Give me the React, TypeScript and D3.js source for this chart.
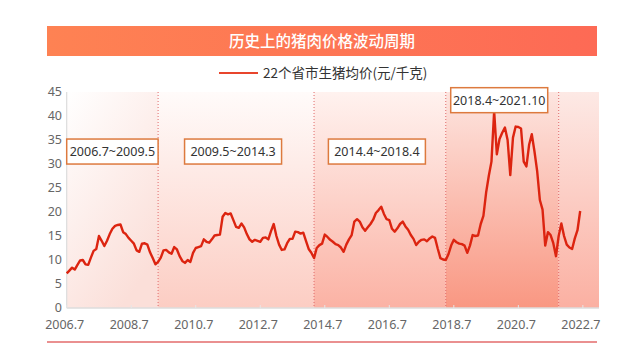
import * as d3 from 'd3'

// 22个省市生猪均价, monthly from 2006.7
const START_YEAR = 2006
const START_MONTH = 7
const prices = [
  7.2, 7.8, 8.4, 8.0, 9.0, 9.9, 10.0, 9.1, 9.0, 10.5, 11.9, 12.3,
  15.0, 14.0, 12.9, 14.0, 15.4, 16.5, 17.1, 17.3, 17.4, 15.8, 15.4, 14.6,
  14.0, 13.4, 12.0, 11.7, 13.4, 13.5, 13.2, 11.6, 10.4, 9.1, 9.6, 10.5,
  12.0, 12.1, 11.6, 11.3, 12.7, 12.2, 10.8, 9.8, 9.4, 10.0, 9.6, 11.5,
  12.5, 12.7, 12.9, 14.3, 13.8, 13.6, 14.3, 15.1, 15.2, 15.3, 19.0, 19.8,
  19.5, 19.7, 18.3, 16.9, 16.7, 17.6, 16.8, 15.4, 14.3, 13.8, 14.2, 14.0,
  13.8, 14.6, 14.7, 14.3, 16.0, 17.5, 15.0, 13.2, 12.1, 12.2, 13.5, 14.4,
  14.4, 15.9, 15.8, 15.5, 15.7, 14.0, 12.3, 11.5, 10.4, 12.5, 13.1, 13.4,
  15.3, 14.8, 14.2, 13.8, 13.3, 13.1, 12.6, 11.7, 13.2, 14.3, 15.2, 18.0,
  18.5, 18.0, 16.8, 16.1, 16.8, 17.5, 18.4, 19.8, 20.4, 21.1, 19.6, 18.5,
  18.3, 16.5, 15.9, 16.6, 17.5, 18.0, 17.0, 16.3, 15.2, 14.4, 13.1, 13.8,
  14.2, 14.3, 13.9, 14.5, 14.9, 14.6, 12.4, 10.4, 10.1, 10.0, 11.2, 13.0,
  14.2, 13.7, 13.4, 13.3, 13.0, 11.5, 13.0, 15.2, 15.0, 15.1, 17.5, 19.2,
  24.0, 27.5, 30.5, 41.0, 32.0, 35.2, 36.5, 37.6, 35.0, 27.7, 35.5, 37.8,
  37.7, 37.4, 30.5, 29.5, 34.0, 36.2, 32.6, 28.5, 22.5, 20.5, 13.0, 15.8,
  15.2, 13.5, 10.8, 15.0, 17.6, 15.0, 13.2, 12.6, 12.3, 14.5, 16.2, 20.2,
]

const xTicks = ['2006.7', '2008.7', '2010.7', '2012.7', '2014.7', '2016.7', '2018.7', '2020.7', '2022.7']
const yTicks = [0, 5, 10, 15, 20, 25, 30, 35, 40, 45]
const cycleBreaks = ['2009.5', '2014.3', '2018.4', '2021.10']
const cycleLabels = ['2006.7~2009.5', '2009.5~2014.3', '2014.4~2018.4', '2018.4~2021.10']

const TITLE = '历史上的猪肉价格波动周期'
const LEGEND = '22个省市生猪均价(元/千克)'

const monthIndex = (s: string) => {
  const [y, m] = s.split('.').map(Number)
  return (y - START_YEAR) * 12 + (m - START_MONTH)
}

const W = 640
const H = 360
const PLOT = { left: 66.7, right: 599, top: 92, bottom: 308 }
const END_M = 198

const x = d3.scaleLinear().domain([0, END_M]).range([PLOT.left, PLOT.right])
const y = d3.scaleLinear().domain([0, 45]).range([PLOT.bottom, PLOT.top])

const regionFills = [
  ['#ffffff', '#fbdfd9'],
  ['#fffbfa', '#fccdc3'],
  ['#fff2ef', '#fbb2a4'],
  ['#fde5e0', '#f99782'],
  ['#fde9e5', '#fbb0a2'],
]

const FONT = '"Noto Sans", "Noto Sans CJK SC", sans-serif'
const CJK = '"Noto Sans CJK SC", sans-serif'

export default function App() {
  const bounds = [0, ...cycleBreaks.map(monthIndex), END_M]
  const line = d3.line<number>()
    .x((_, i) => x(i))
    .y(d => y(d))
    .curve(d3.curveLinear)

  // label boxes: sit over each cycle, last one above the peak
  const boxes = cycleLabels.map((t, i) => {
    const a = bounds[i]
    const b = bounds[i + 1]
    const w = i === 0 ? x(b) - x(a) : 97
    const cx = i === 0 ? (x(a) + x(b)) / 2 : x((a + b) / 2) - 3
    const top = i === 3 ? y(45.9) : y(35.2)
    return { t, x: cx - w / 2, w, top, h: 25 }
  })

  return (
    <svg width={W} height={H} style={{ position: 'absolute', left: 0, top: 0, background: '#fff' }}>
      <defs>
        <linearGradient id="titleGrad" x1="0" x2="1" y1="0" y2="0">
          <stop offset="0" stopColor="#fe8253" />
          <stop offset="1" stopColor="#fd6a55" />
        </linearGradient>
        {regionFills.map((c, i) => (
          <linearGradient key={i} id={`reg${i}`} x1="0" x2={i === 0 ? '0.6' : '0'} y1="0" y2="1">
            <stop offset="0" stopColor={c[0]} />
            <stop offset="1" stopColor={c[1]} />
          </linearGradient>
        ))}
      </defs>

      {/* title bar */}
      <rect x={47} y={26} width={550} height={30} fill="url(#titleGrad)" />
      <text x={322} y={46.5} textAnchor="middle" fill="#fff" fontSize={15.5} fontFamily={CJK} fontWeight={500}>
        {TITLE}
      </text>

      {/* legend */}
      <line x1={219} x2={258} y1={73} y2={73} stroke="#e8452c" strokeWidth={2.2} />
      <text x={263} y={78} fontSize={13.5} fill="#333" fontFamily={CJK}>{LEGEND}</text>

      {/* cycle backgrounds */}
      {bounds.slice(0, -1).map((a, i) => (
        <rect key={i} x={x(a)} y={PLOT.top} width={x(bounds[i + 1]) - x(a)}
          height={PLOT.bottom - PLOT.top} fill={`url(#reg${i})`} />
      ))}
      {cycleBreaks.map(s => (
        <line key={s} x1={x(monthIndex(s))} x2={x(monthIndex(s))} y1={PLOT.top} y2={PLOT.bottom}
          stroke="#e06a6a" strokeWidth={1} strokeDasharray="1,2" />
      ))}

      {/* axes */}
      <line x1={PLOT.left} x2={PLOT.left} y1={PLOT.top} y2={PLOT.bottom} stroke="#dcdcdc" strokeWidth={1.2} />
      <line x1={PLOT.left} x2={PLOT.right} y1={PLOT.bottom} y2={PLOT.bottom} stroke="#dcdcdc" strokeWidth={1.5} />
      {yTicks.map(v => (
        <text key={v} x={62} y={y(v) + 4} textAnchor="end" fontSize={12.5} fill="#666" fontFamily={FONT}>{v}</text>
      ))}
      {xTicks.map(s => (
        <g key={s}>
          <line x1={x(monthIndex(s))} x2={x(monthIndex(s))} y1={PLOT.bottom - 3} y2={PLOT.bottom} stroke="#e6e6e6" />
          <text x={x(monthIndex(s)) - 2} y={328.5} textAnchor="middle" fontSize={12.5} fill="#666" fontFamily={FONT}>{s}</text>
        </g>
      ))}

      {/* price line */}
      <path d={line(prices) ?? ''} fill="none" stroke="#dc2410" strokeWidth={2.4} strokeLinejoin="round" />

      {/* cycle label boxes */}
      {boxes.map(b => (
        <g key={b.t}>
          <rect x={b.x} y={b.top} width={b.w} height={b.h} fill="#fff" stroke="#dd7a3e" strokeWidth={1.5} />
          <text x={b.x + b.w / 2} y={b.top + b.h / 2 + 4.5} textAnchor="middle" fontSize={12.5} fill="#333" fontFamily={FONT}>{b.t}</text>
        </g>
      ))}

      {/* bottom rule */}
      <line x1={47} x2={597} y1={342} y2={342} stroke="#e36b6b" strokeWidth={1.5} />
    </svg>
  )
}
